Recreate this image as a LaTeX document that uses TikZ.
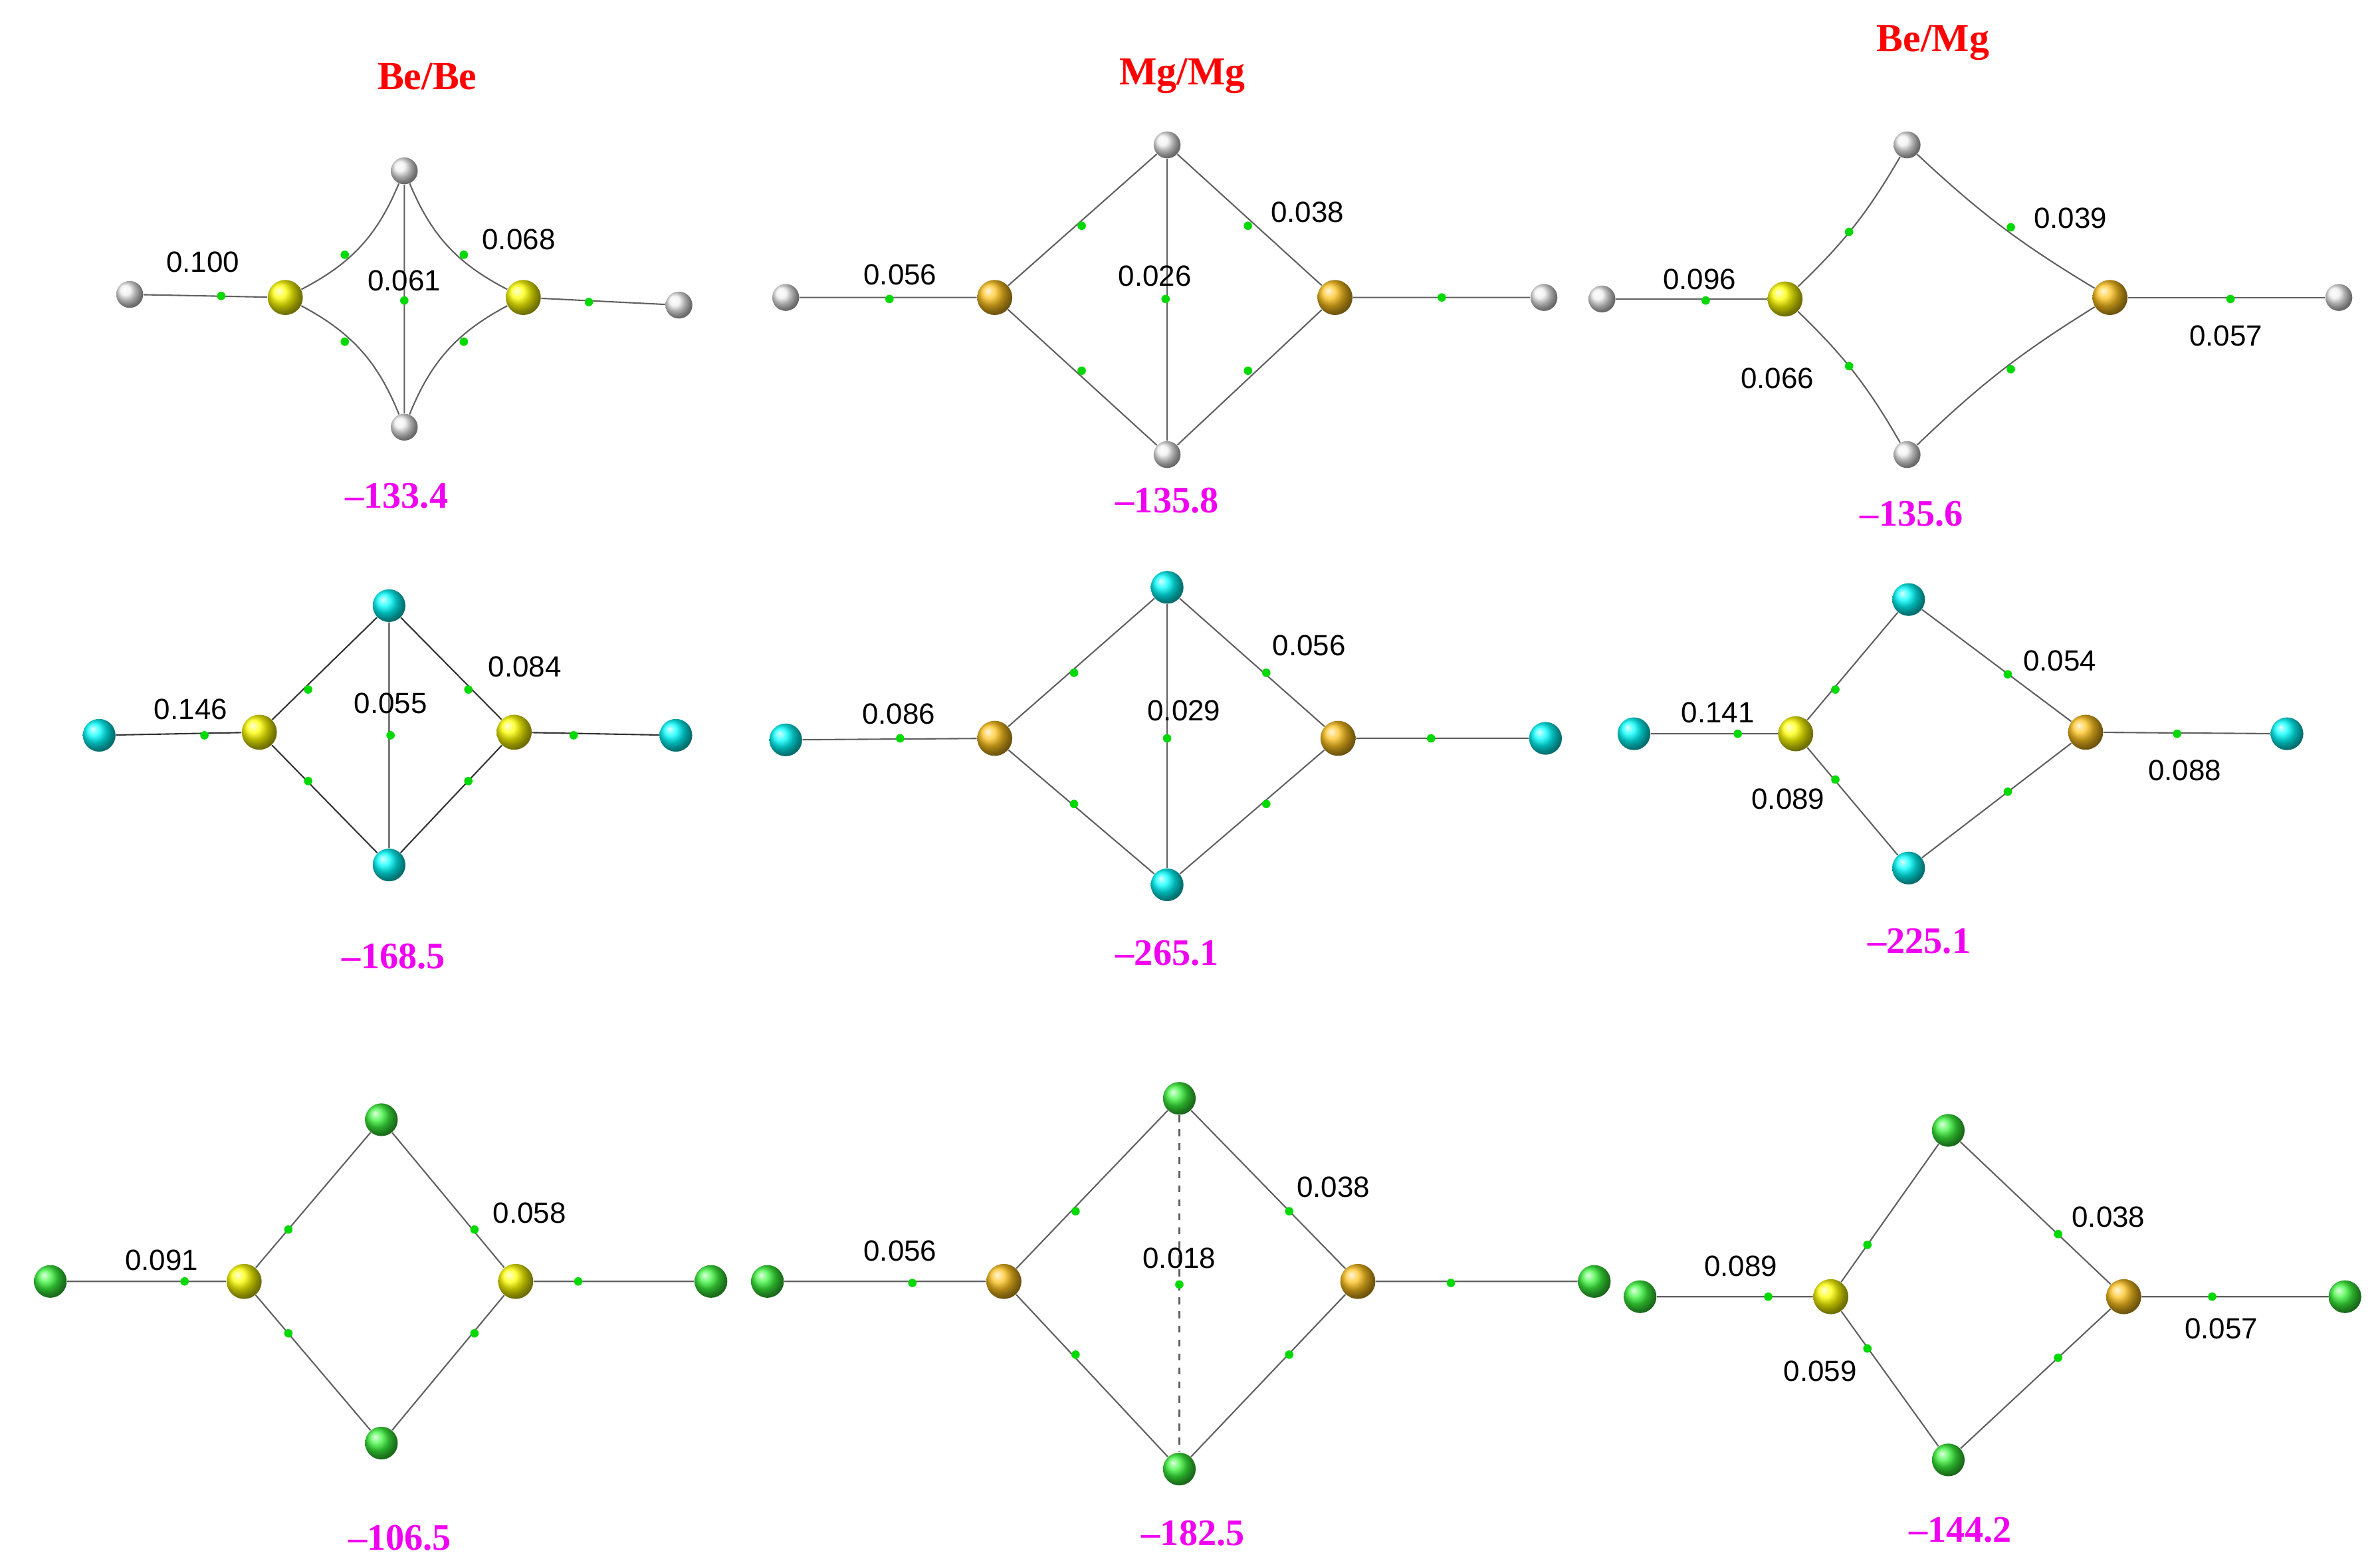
\documentclass[tikz,border=0pt]{standalone}
\usepackage{fontspec}
\setmainfont{Liberation Sans}
\newfontfamily\tms{Liberation Serif}
\definecolor{mgc}{RGB}{255,195,30}
\definecolor{clc}{RGB}{60,245,60}
\definecolor{enc}{RGB}{240,0,240}
\begin{document}
\begin{tikzpicture}[x=0.022955cm,y=-0.022955cm,
 atom/.style={circle,inner sep=0pt,shading=ball,draw=none},
 H/.style={atom,ball color=gray!12,minimum size=11.5pt},
 Be/.style={atom,ball color=yellow,minimum size=15pt},
 Mg/.style={atom,ball color=mgc,minimum size=15pt},
 F/.style={atom,ball color=cyan,minimum size=14pt},
 Cl/.style={atom,ball color=clc,minimum size=14pt},
 bcp/.style={circle,inner sep=0pt,minimum size=3.6pt,fill=green!85!black},
 bond/.style={draw=gray!75!black,line width=0.6pt},
 lab/.style={font=\fontsize{12.5}{14}\selectfont},
 ttl/.style={font=\tms\bfseries\fontsize{17}{19}\selectfont,text=red},
 en/.style={font=\tms\bfseries\fontsize{16}{18}\selectfont,text=enc}]
\useasboundingbox (0,0) rectangle (1560,1027);
\newcommand\bcps[1]{\foreach \p in {#1} \node[bcp] at \p {};}
% ===== Row 1 =====
\node[ttl] (t1) at (280,50) {Be/Be};
\node[ttl] (t2) at (775,50) {Mg/Mg};
\node[ttl] (t3) at (1267,28) {Be/Mg};
% Be/Be
\node[H] (a1) at (85,193) {}; \node[Be] (a2) at (187,195) {}; \node[H] (a3) at (265,112) {};
\node[H] (a4) at (265,280) {}; \node[Be] (a5) at (343,195) {}; \node[H] (a6) at (445,200) {};
\draw[bond] (a1)--(a2) (a5)--(a6) (a3)--(a4);
\draw[bond] (a2) to[bend right=20] (a3); \draw[bond] (a3) to[bend right=20] (a5);
\draw[bond] (a5) to[bend right=20] (a4); \draw[bond] (a4) to[bend right=20] (a2);
\bcps{(145,194),(226,167),(226,224),(304,167),(304,224),(265,197),(386,198)}
\node[lab] at (133,172) {0.100}; \node[lab] at (265,184) {0.061}; \node[lab] at (340,157) {0.068};
\node[en] at (260,325) {–133.4};
% Mg/Mg
\node[H] (b1) at (515,195) {}; \node[Mg] (b2) at (652,195) {}; \node[H] (b3) at (765,95) {};
\node[H] (b4) at (765,298) {}; \node[Mg] (b5) at (875,195) {}; \node[H] (b6) at (1012,195) {};
\draw[bond] (b1)--(b2) (b5)--(b6) (b3)--(b4) (b2)--(b3) (b3)--(b5) (b5)--(b4) (b4)--(b2);
\bcps{(583,196),(709,148),(709,243),(818,148),(818,243),(764,196),(945,195)}
\node[lab] at (590,180) {0.056}; \node[lab] at (757,181) {0.026}; \node[lab] at (857,139) {0.038};
\node[en] at (765,328) {–135.8};
% Be/Mg
\node[H] (c1) at (1050,196) {}; \node[Be] (c2) at (1170,196) {}; \node[H] (c3) at (1250,95) {};
\node[H] (c4) at (1250,298) {}; \node[Mg] (c5) at (1383,195) {}; \node[H] (c6) at (1533,195) {};
\draw[bond] (c1)--(c2) (c5)--(c6);
\draw[bond] (c2) to[bend right=8] (c3); \draw[bond] (c3) to[bend right=6] (c5);
\draw[bond] (c5) to[bend right=6] (c4); \draw[bond] (c4) to[bend right=8] (c2);
\bcps{(1118,197),(1212,152),(1212,240),(1318,149),(1318,242),(1462,196)}
\node[lab] at (1114,183) {0.096}; \node[lab] at (1357,143) {0.039};
\node[lab] at (1165,248) {0.066}; \node[lab] at (1459,220) {0.057};
\node[en] at (1253,337) {–135.6};
% ===== Row 2 =====
\node[F] (d1) at (65,482) {}; \node[Be] (d2) at (170,480) {}; \node[F] (d3) at (255,397) {};
\node[F] (d4) at (255,567) {}; \node[Be] (d5) at (337,480) {}; \node[F] (d6) at (443,482) {};
\draw[bond,draw=gray!40!black] (d1)--(d2) (d5)--(d6) (d3)--(d4) (d2)--(d3) (d3)--(d5) (d5)--(d4) (d4)--(d2);
\bcps{(134,482),(202,452),(202,512),(307,452),(307,512),(256,482),(376,482)}
\node[lab] at (125,465) {0.146}; \node[lab] at (256,461) {0.055}; \node[lab] at (344,437) {0.084};
\node[en] at (258,627) {–168.5};
\node[F] (e1) at (515,485) {}; \node[Mg] (e2) at (652,484) {}; \node[F] (e3) at (765,385) {};
\node[F] (e4) at (765,580) {}; \node[Mg] (e5) at (877,484) {}; \node[F] (e6) at (1013,484) {};
\draw[bond] (e1)--(e2) (e5)--(e6) (e3)--(e4) (e2)--(e3) (e3)--(e5) (e5)--(e4) (e4)--(e2);
\bcps{(590,484),(704,441),(704,527),(830,441),(830,527),(765,484),(938,484)}
\node[lab] at (589,468) {0.086}; \node[lab] at (776,466) {0.029}; \node[lab] at (858,423) {0.056};
\node[en] at (765,625) {–265.1};
\node[F] (f1) at (1071,481) {}; \node[Be] (f2) at (1177,481) {}; \node[F] (f3) at (1251,393) {};
\node[F] (f4) at (1251,569) {}; \node[Mg] (f5) at (1367,480) {}; \node[F] (f6) at (1499,481) {};
\draw[bond] (f1)--(f2) (f5)--(f6) (f2)--(f3) (f3)--(f5) (f5)--(f4) (f4)--(f2);
\bcps{(1139,481),(1203,452),(1203,511),(1316,442),(1316,519),(1427,481)}
\node[lab] at (1126,467) {0.141}; \node[lab] at (1350,433) {0.054};
\node[lab] at (1172,524) {0.089}; \node[lab] at (1432,505) {0.088};
\node[en] at (1258,617) {–225.1};
% ===== Row 3 =====
\node[Cl] (g1) at (33,840) {}; \node[Be] (g2) at (160,840) {}; \node[Cl] (g3) at (250,734) {};
\node[Cl] (g4) at (250,946) {}; \node[Be] (g5) at (338,840) {}; \node[Cl] (g6) at (466,840) {};
\draw[bond] (g1)--(g2) (g5)--(g6) (g2)--(g3) (g3)--(g5) (g5)--(g4) (g4)--(g2);
\bcps{(121,840),(189,806),(189,874),(311,806),(311,874),(379,840)}
\node[lab] at (106,826) {0.091}; \node[lab] at (347,795) {0.058};
\node[en] at (262,1008) {–106.5};
\node[Cl] (h1) at (503,840) {}; \node[Mg] (h2) at (658,840) {}; \node[Cl] (h3) at (773,720) {};
\node[Cl] (h4) at (773,963) {}; \node[Mg] (h5) at (890,840) {}; \node[Cl] (h6) at (1045,840) {};
\draw[bond] (h1)--(h2) (h5)--(h6) (h2)--(h3) (h3)--(h5) (h5)--(h4) (h4)--(h2);
\draw[bond,dashed] (h3)--(h4);
\bcps{(598,841),(705,794),(705,888),(845,794),(845,888),(773,842),(951,841)}
\node[lab] at (590,820) {0.056}; \node[lab] at (773,825) {0.018}; \node[lab] at (874,778) {0.038};
\node[en] at (782,1005) {–182.5};
\node[Cl] (k1) at (1075,850) {}; \node[Be] (k2) at (1200,850) {}; \node[Cl] (k3) at (1277,741) {};
\node[Cl] (k4) at (1277,957) {}; \node[Mg] (k5) at (1392,850) {}; \node[Cl] (k6) at (1537,850) {};
\draw[bond] (k1)--(k2) (k5)--(k6) (k2)--(k3) (k3)--(k5) (k5)--(k4) (k4)--(k2);
\bcps{(1159,850),(1224,816),(1224,884),(1349,809),(1349,890),(1450,850)}
\node[lab] at (1141,830) {0.089}; \node[lab] at (1382,798) {0.038};
\node[lab] at (1193,899) {0.059}; \node[lab] at (1456,871) {0.057};
\node[en] at (1285,1003) {–144.2};
\end{tikzpicture}
\end{document}
